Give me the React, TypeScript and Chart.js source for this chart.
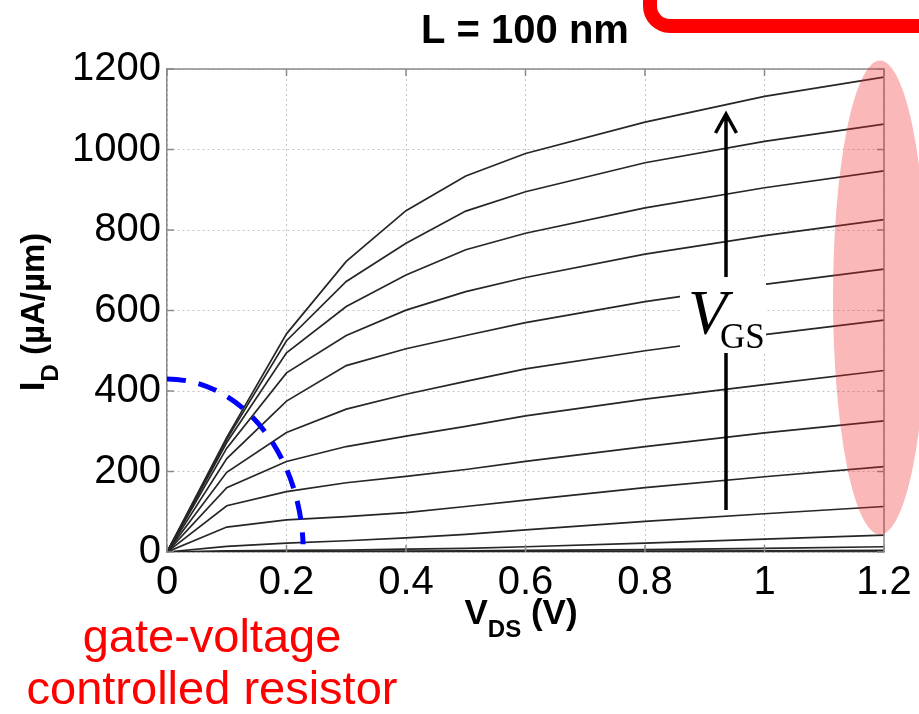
import React, { useEffect, useRef } from 'react';
import { Chart, registerables } from 'chart.js';

Chart.register(...registerables);

// V_DS sample points (V)
const vds = [0, 0.1, 0.2, 0.3, 0.4, 0.5, 0.6, 0.8, 1.0, 1.2];

// I_D (µA/µm) for each V_GS step, highest V_GS first
const id1 = [0, 285, 542, 722, 848, 934, 990, 1068, 1132, 1180];
const id2 = [0, 280, 525, 672, 767, 847, 895, 967, 1020, 1063];
const id3 = [0, 272, 495, 610, 688, 751, 792, 855, 905, 947];
const id4 = [0, 258, 445, 538, 601, 647, 682, 740, 786, 826];
const id5 = [0, 232, 375, 463, 505, 538, 570, 622, 665, 703];
const id6 = [0, 198, 297, 355, 392, 424, 455, 500, 540, 576];
const id7 = [0, 160, 225, 262, 288, 312, 338, 380, 416, 451];
const id8 = [0, 115, 150, 172, 188, 205, 225, 262, 296, 326];
const id9 = [0, 62, 80, 88, 98, 113, 129, 160, 187, 212];
const id10 = [0, 14, 22, 28, 35, 44, 55, 76, 95, 113];
const id11 = [0, 3, 4, 5, 7, 9, 13, 22, 32, 42];
const id12 = [0, 1, 1, 2, 2, 3, 4, 6, 9, 13];
const id13 = [0, 0, 0, 0, 1, 1, 1, 2, 3, 4];
const id14 = [0, 0, 0, 0, 0, 0, 0, 0, 0, 0];
const curves = [id1, id2, id3, id4, id5, id6, id7, id8, id9, id10, id11, id12, id13, id14];

const xTicks = [0, 0.2, 0.4, 0.6, 0.8, 1, 1.2];
const yTicks = [0, 200, 400, 600, 800, 1000, 1200];

const titleText = 'L = 100 nm';
const redLine1 = 'gate-voltage';
const redLine2 = 'controlled resistor';

const SANS = '"Liberation Sans", Arial, sans-serif';
const SERIF = '"Liberation Serif", "Times New Roman", serif';

function drawSub(
  ctx: CanvasRenderingContext2D,
  parts: { t: string; size: number; dy: number }[],
  cx: number,
  baseY: number,
  weight: string
) {
  let total = 0;
  const widths = parts.map((p) => {
    ctx.font = `${weight} ${p.size}px ${SANS}`;
    const w = ctx.measureText(p.t).width;
    total += w;
    return w;
  });
  let x = cx - total / 2;
  ctx.textAlign = 'left';
  ctx.textBaseline = 'alphabetic';
  parts.forEach((p, i) => {
    ctx.font = `${weight} ${p.size}px ${SANS}`;
    ctx.fillText(p.t, x, baseY + p.dy);
    x += widths[i];
  });
}

const overlayPlugin = {
  id: 'overlay',
  afterDraw(chart: any) {
    const ctx: CanvasRenderingContext2D = chart.ctx;
    const xs = chart.scales.x;
    const ys = chart.scales.y;
    const area = chart.chartArea;

    ctx.save();
    // box border top/right + inward ticks
    ctx.strokeStyle = '#8a8a8a';
    ctx.lineWidth = 1.5;
    ctx.beginPath();
    ctx.moveTo(area.left, area.top);
    ctx.lineTo(area.right, area.top);
    ctx.lineTo(area.right, area.bottom);
    ctx.stroke();
    ctx.beginPath();
    xTicks.forEach((v) => {
      const px = xs.getPixelForValue(v);
      ctx.moveTo(px, area.bottom);
      ctx.lineTo(px, area.bottom - 7);
      ctx.moveTo(px, area.top);
      ctx.lineTo(px, area.top + 7);
    });
    yTicks.forEach((v) => {
      const py = ys.getPixelForValue(v);
      ctx.moveTo(area.left, py);
      ctx.lineTo(area.left + 7, py);
      ctx.moveTo(area.right, py);
      ctx.lineTo(area.right - 7, py);
    });
    ctx.stroke();

    // blue dashed quarter ellipse
    const cx0 = xs.getPixelForValue(0);
    const cy0 = ys.getPixelForValue(0);
    const rx = xs.getPixelForValue(0.228) - cx0;
    const ry = cy0 - ys.getPixelForValue(430);
    ctx.strokeStyle = '#0000ff';
    ctx.lineWidth = 5;
    ctx.setLineDash([19, 13]);
    ctx.beginPath();
    ctx.ellipse(cx0, cy0, rx, ry, 0, -Math.PI / 2, -0.045);
    ctx.stroke();
    ctx.setLineDash([]);

    // pink ellipse at V_DS = 1.2
    const ex = xs.getPixelForValue(1.2) - 4;
    const ey = ys.getPixelForValue(632);
    ctx.fillStyle = 'rgba(240, 40, 40, 0.33)';
    ctx.beginPath();
    ctx.ellipse(ex, ey, 47, 237, 0, 0, Math.PI * 2);
    ctx.fill();

    // V_GS label with arrow
    const ax = 726;
    ctx.fillStyle = '#ffffff';
    ctx.fillRect(680, 277, 86, 76);
    ctx.strokeStyle = '#000';
    ctx.lineWidth = 3.5;
    ctx.beginPath();
    ctx.moveTo(ax, 510);
    ctx.lineTo(ax, 353);
    ctx.moveTo(ax, 277);
    ctx.lineTo(ax, 115);
    ctx.moveTo(ax - 10.5, 133);
    ctx.lineTo(ax, 114);
    ctx.lineTo(ax + 10.5, 133);
    ctx.stroke();
    ctx.fillStyle = '#000';
    ctx.textAlign = 'left';
    ctx.textBaseline = 'alphabetic';
    ctx.font = `italic 64px ${SERIF}`;
    ctx.fillText('V', 688, 334);
    ctx.font = `35px ${SERIF}`;
    ctx.fillText('GS', 720, 348);

    // red rounded corner at top right
    ctx.strokeStyle = '#ff0000';
    ctx.lineWidth = 14;
    ctx.beginPath();
    ctx.moveTo(650, -10);
    ctx.lineTo(650, 6);
    ctx.arcTo(650, 26, 672, 26, 20);
    ctx.lineTo(940, 26);
    ctx.stroke();

    // title
    ctx.fillStyle = '#000';
    ctx.textAlign = 'center';
    ctx.font = `bold 40px ${SANS}`;
    ctx.fillText(titleText, 525, 43);

    // x axis title V_DS (V)
    drawSub(
      ctx,
      [
        { t: 'V', size: 35, dy: 0 },
        { t: 'DS', size: 24, dy: 13 },
        { t: ' (V)', size: 35, dy: 0 },
      ],
      521,
      624,
      'bold'
    );

    // y axis title I_D (µA/µm)
    ctx.save();
    ctx.translate(44, 312);
    ctx.rotate(-Math.PI / 2);
    drawSub(
      ctx,
      [
        { t: 'I', size: 35, dy: 0 },
        { t: 'D', size: 24, dy: 14 },
        { t: ' (\u00b5A/\u00b5m)', size: 33, dy: 0 },
      ],
      0,
      0,
      'bold'
    );
    ctx.restore();

    // red annotation
    ctx.fillStyle = '#ff0000';
    ctx.textAlign = 'center';
    ctx.font = `47px ${SANS}`;
    ctx.fillText(redLine1, 212, 652);
    ctx.fillText(redLine2, 212, 704);

    ctx.restore();
  },
};

export default function App() {
  const ref = useRef<HTMLCanvasElement | null>(null);

  useEffect(() => {
    document.body.style.margin = '0';
    const canvas = ref.current;
    if (!canvas) return;
    const datasets = curves.map((c, i) => ({
      label: `VGS${i + 1}`,
      data: c.map((y, j) => ({ x: vds[j], y })),
      borderColor: '#262626',
      borderWidth: 1.7,
      pointRadius: 0,
      fill: false,
      tension: 0,
    }));
    const gridOpts = {
      color: '#c4c4c4',
      lineWidth: 1,
      drawTicks: false,
    };
    const chart = new Chart(canvas, {
      type: 'line',
      data: { datasets },
      options: {
        animation: false,
        responsive: false,
        devicePixelRatio: 1,
        layout: { padding: { left: 0, right: 35, top: 69, bottom: 0 } },
        plugins: {
          legend: { display: false },
          tooltip: { enabled: false },
          title: { display: false },
        },
        scales: {
          x: {
            type: 'linear',
            min: 0,
            max: 1.2,
            afterBuildTicks: (s: any) => {
              s.ticks = xTicks.map((v) => ({ value: v }));
            },
            afterFit: (s: any) => {
              s.height = 714 - 552;
            },
            grid: gridOpts,
            border: { display: true, color: '#8a8a8a', width: 1.5, dash: [2, 3] },
            ticks: {
              padding: 7,
              color: '#000',
              maxRotation: 0,
              autoSkip: false,
              font: { family: SANS, size: 40 },
              callback: (v: any) => String(v),
            },
          },
          y: {
            type: 'linear',
            min: 0,
            max: 1200,
            afterBuildTicks: (s: any) => {
              s.ticks = yTicks.map((v) => ({ value: v }));
            },
            afterFit: (s: any) => {
              s.width = 167;
            },
            grid: gridOpts,
            border: { display: true, color: '#8a8a8a', width: 1.5, dash: [2, 3] },
            ticks: {
              padding: 6,
              color: '#000',
              autoSkip: false,
              font: { family: SANS, size: 40 },
              callback: (v: any) => String(v),
            },
          },
        },
      },
      plugins: [overlayPlugin],
    } as any);
    return () => chart.destroy();
  }, []);

  return (
    <div style={{ position: 'absolute', left: 0, top: 0, width: 919, height: 714, background: '#fff' }}>
      <canvas ref={ref} width={919} height={714} style={{ display: 'block', width: 919, height: 714 }} />
    </div>
  );
}
